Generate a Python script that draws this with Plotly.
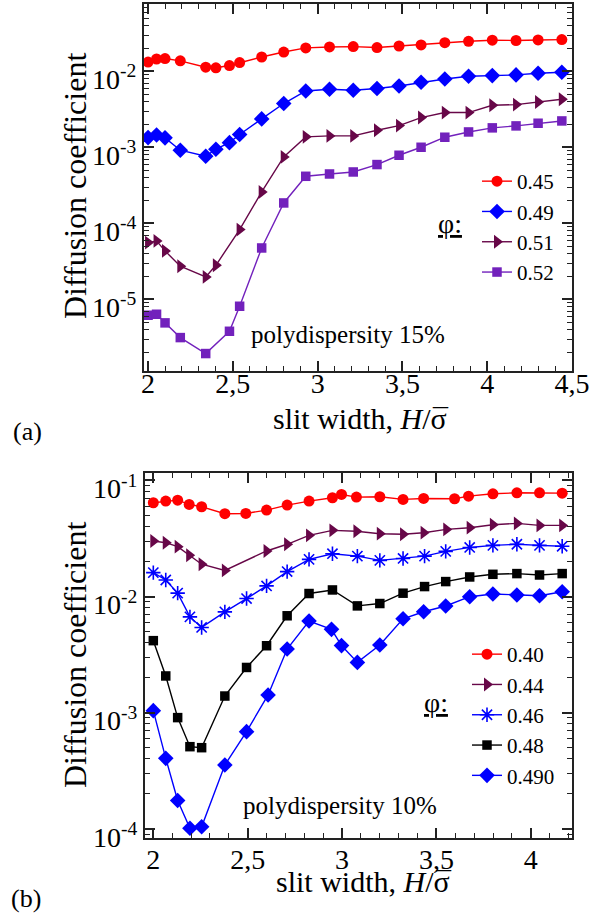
import plotly.graph_objects as go

# ---------------- data : panel (a), polydispersity 15% ----------------
XA = [2.0, 2.05, 2.1, 2.19, 2.34, 2.4, 2.48, 2.54, 2.67, 2.8, 2.93, 3.07,
      3.21, 3.35, 3.48, 3.61, 3.75, 3.89, 4.03, 4.17, 4.3, 4.44]
A_045 = [0.0132, 0.0145, 0.0147, 0.0137, 0.0113, 0.0111, 0.0119, 0.0130, 0.0154, 0.0179, 0.0203,
         0.0209, 0.0211, 0.0205, 0.0215, 0.0222, 0.0238, 0.0248, 0.0256, 0.0254, 0.0258, 0.0261]
A_049 = [0.00134, 0.00145, 0.00133, 0.000914, 0.000762, 0.000942, 0.00115, 0.00147, 0.00236,
         0.00376, 0.00551, 0.00580, 0.00562, 0.00592, 0.00641, 0.00716, 0.00792, 0.00859,
         0.00877, 0.00895, 0.00941, 0.00970]
A_051 = [5.57e-5, 5.86e-5, 4.33e-5, 2.72e-5, 1.97e-5, 2.80e-5, None, 8.26e-5, 2.58e-4, 7.46e-4,
         1.37e-3, 1.41e-3, 1.41e-3, 1.675e-3, 1.93e-3, 2.46e-3, 2.86e-3, 2.86e-3, 3.57e-3,
         3.64e-3, 3.94e-3, 4.28e-3]
A_052 = [6.16e-6, 6.35e-6, 4.89e-6, 3.13e-6, 1.93e-6, None, 3.79e-6, 8.09e-6, 4.73e-5, 1.85e-4,
         4.15e-4, 4.45e-4, 4.73e-4, 5.92e-4, 7.85e-4, 1.0e-3, 1.355e-3, 1.59e-3, 1.80e-3,
         1.91e-3, 2.07e-3, 2.22e-3]

# ---------------- data : panel (b), polydispersity 10% ----------------
XB_040 = [2.0, 2.066, 2.129, 2.19, 2.256, 2.379, 2.49, 2.6, 2.709, 2.825, 2.949, 2.997, 3.076,
          3.2, 3.323, 3.432, 3.596, 3.67, 3.799, 3.926, 4.046, 4.166]
B_040 = [0.0643, 0.0664, 0.0677, 0.0622, 0.0594, 0.0517, 0.0520, 0.0556, 0.0614, 0.0664, 0.0710,
         0.0758, 0.0719, 0.0724, 0.0687, 0.0700, 0.0696, 0.0733, 0.0768, 0.0783, 0.0783, 0.0778]
XB_044 = [2.0, 2.066, 2.129, 2.19, 2.256, 2.379, 2.6, 2.709, 2.825, 2.949, 3.076, 3.2, 3.323,
          3.432, 3.552, 3.676, 3.799, 3.926, 4.046, 4.166]
B_044 = [0.0301, 0.0291, 0.0269, 0.0227, 0.0190, 0.0168, 0.0247, 0.0282, 0.0337, 0.0372, 0.0365,
         0.0348, 0.0344, 0.0355, 0.0379, 0.0392, 0.0416, 0.0427, 0.0410, 0.0410]
XB_046 = [2.0, 2.066, 2.129, 2.194, 2.256, 2.379, 2.494, 2.6, 2.709, 2.825, 2.949, 3.081, 3.2,
          3.323, 3.437, 3.549, 3.676, 3.799, 3.926, 4.046, 4.166]
B_046 = [0.01607, 0.0139, 0.0107, 0.00668, 0.00542, 0.00738, 0.00961, 0.01235, 0.01641, 0.0209,
         0.0234, 0.0223, 0.0205, 0.0213, 0.0223, 0.0245, 0.0265, 0.0276, 0.0282, 0.0276, 0.0271]
XB_048 = XB_046
B_048 = [0.00417, 0.00207, 0.000906, 0.000509, 0.000499, 0.00139, 0.00245, 0.00377, 0.00683,
         0.01062, 0.01140, 0.00831, 0.00871, 0.01069, 0.01219, 0.01346, 0.01475, 0.01555,
         0.01577, 0.01534, 0.01577]
XB_0490 = [2.0, 2.066, 2.129, 2.194, 2.256, 2.379, 2.494, 2.608, 2.709, 2.825, 2.944, 2.997,
           3.081, 3.2, 3.323, 3.432, 3.549, 3.676, 3.799, 3.926, 4.046, 4.166]
B_0490 = [1.04e-3, 4.04e-4, 1.75e-4, 1.01e-4, 1.04e-4, 3.54e-4, 6.86e-4, 1.42e-3, 3.53e-3,
          6.15e-3, 5.22e-3, 3.78e-3, 2.71e-3, 3.83e-3, 6.44e-3, 7.40e-3, 8.29e-3, 9.97e-3,
          0.01052, 0.01031, 0.01017, 0.01101]

# ---------------- tick labels ----------------
XTICKS_A = [2, 2.5, 3, 3.5, 4, 4.5]
XTEXT_A = ["2", "2,5", "3", "3,5", "4", "4,5"]
XTICKS_B = [2, 2.5, 3, 3.5, 4]
XTEXT_B = ["2", "2,5", "3", "3,5", "4"]
YTICKS_A = [1e-5, 1e-4, 1e-3, 1e-2]
YTEXT_A = ["10<sup>-5</sup>", "10<sup>-4</sup>", "10<sup>-3</sup>", "10<sup>-2</sup>"]
YTICKS_B = [1e-4, 1e-3, 1e-2, 1e-1]
YTEXT_B = ["10<sup>-4</sup>", "10<sup>-3</sup>", "10<sup>-2</sup>", "10<sup>-1</sup>"]

FONT = "Liberation Serif"
W, H = 591, 917
RED, BLUE, MAROON, INDIGO, BLACK = "#ff0000", "#0000ff", "#670748", "#7221bc", "#000000"


def px_x(p):
    return p / W


def px_y(p):
    return 1 - p / H


fig = go.Figure()


def add(x, y, name, color, symbol, size, ax, legend, open_marker=False):
    marker = dict(symbol=symbol, size=size, color=color)
    if open_marker:
        marker["line"] = dict(color=color, width=1.6)
    else:
        marker["line"] = dict(width=0)
    fig.add_trace(go.Scatter(
        x=x, y=y, name=name, mode="lines+markers", connectgaps=True,
        line=dict(color=color, width=1.4), marker=marker,
        xaxis="x" if ax == 1 else "x2", yaxis="y" if ax == 1 else "y2",
        legend=legend))


add(XA, A_045, "0.45", RED, "circle", 11, 1, "legend")
add(XA, A_049, "0.49", BLUE, "diamond", 12, 1, "legend")
add(XA, A_051, "0.51", MAROON, "triangle-right", 12, 1, "legend")
add(XA, A_052, "0.52", INDIGO, "square", 9.5, 1, "legend")

add(XB_040, B_040, "0.40", RED, "circle", 11, 2, "legend2")
add(XB_044, B_044, "0.44", MAROON, "triangle-right", 12, 2, "legend2")
add(XB_046, B_046, "0.46", BLUE, "asterisk-open", 12, 2, "legend2", open_marker=True)
add(XB_048, B_048, "0.48", BLACK, "square", 9.5, 2, "legend2")
add(XB_0490, B_0490, "0.490", BLUE, "diamond", 12, 2, "legend2")


def minor_vals(e0, e1):
    return [m * 10.0 ** e for e in range(e0, e1) for m in range(2, 10)]


axis_common = dict(
    showline=True, linecolor="#222222", linewidth=2, mirror="allticks",
    ticks="inside", ticklen=10, tickwidth=1.6, tickcolor="#222222",
    tickfont=dict(family=FONT, size=28, color="black"),
    showgrid=False, zeroline=False, tickmode="array", automargin=False,
)
minor_x = dict(dtick=0.1, tick0=2, ticks="inside", ticklen=5, tickwidth=1.2, tickcolor="#222222")

fig.update_layout(
    width=W, height=H,
    margin=dict(l=0, r=0, t=0, b=0, pad=0, autoexpand=False),
    paper_bgcolor="white", plot_bgcolor="white",
    font=dict(family=FONT, color="black"),
    showlegend=True,
    xaxis=dict(axis_common, domain=[px_x(144), px_x(572)], range=[1.976, 4.5],
               tickvals=XTICKS_A, ticktext=XTEXT_A, anchor="y", ticklabelstandoff=-14,
               minor=minor_x),
    yaxis=dict(axis_common, domain=[px_y(371), px_y(4)], type="log", range=[-5.944, -1.115],
               tickvals=YTICKS_A, ticktext=YTEXT_A, anchor="x", ticklabelshift=8,
               minor=dict(tickmode="array", tickvals=minor_vals(-6, -1), ticks="inside",
                          ticklen=5, tickwidth=1.2, tickcolor="#222222")),
    xaxis2=dict(axis_common, domain=[px_x(145), px_x(572)], range=[1.956, 4.218],
                tickvals=XTICKS_B, ticktext=XTEXT_B, anchor="y2", ticklabelstandoff=-5,
                minor=minor_x),
    yaxis2=dict(axis_common, domain=[px_y(838), px_y(472.7)], type="log", range=[-4.08, -0.933],
                tickvals=YTICKS_B, ticktext=YTEXT_B, anchor="x2", ticklabelshift=8,
                minor=dict(tickmode="array", tickvals=minor_vals(-5, 0), ticks="inside",
                           ticklen=5, tickwidth=1.2, tickcolor="#222222")),
    legend=dict(x=px_x(477), y=px_y(161), xanchor="left", yanchor="top",
                font=dict(family=FONT, size=21, color="black"), bgcolor="rgba(0,0,0,0)",
                tracegroupgap=0, itemwidth=30),
    legend2=dict(x=px_x(467), y=px_y(634), xanchor="left", yanchor="top",
                 font=dict(family=FONT, size=21, color="black"), bgcolor="rgba(0,0,0,0)",
                 tracegroupgap=0, itemwidth=30),
)

XTITLE = "slit width, <i>H</i>/σ"
YTITLE = "Diffusion coefficient"

annotations = [
    dict(text=YTITLE, x=px_x(75), y=px_y(186), textangle=-90, font=dict(size=32)),
    dict(text=YTITLE, x=px_x(75), y=px_y(655), textangle=-90, font=dict(size=32)),
    dict(text=XTITLE, x=px_x(449), y=px_y(418), font=dict(size=30), xanchor="right"),
    dict(text="¯", x=px_x(440), y=px_y(418), font=dict(size=30)),
    dict(text=XTITLE, x=px_x(452), y=px_y(881), font=dict(size=30), xanchor="right"),
    dict(text="¯", x=px_x(443), y=px_y(881), font=dict(size=30)),
    dict(text="polydispersity 15%", x=px_x(348), y=px_y(334), font=dict(size=25)),
    dict(text="polydispersity 10%", x=px_x(340), y=px_y(805), font=dict(size=25)),
    dict(text="<u>φ:</u>", x=px_x(450), y=px_y(224), font=dict(size=28)),
    dict(text="<u>φ:</u>", x=px_x(436), y=px_y(702), font=dict(size=28)),
    dict(text="(a)", x=px_x(27), y=px_y(432), font=dict(size=26)),
    dict(text="(b)", x=px_x(26), y=px_y(898), font=dict(size=26)),
]
for a in annotations:
    base = dict(xref="paper", yref="paper", showarrow=False, xanchor="center", yanchor="middle")
    base.update(a)
    a.clear()
    a.update(base)
    a["font"] = dict(family=FONT, color="black", **a["font"])
fig.update_layout(annotations=annotations)

fig.write_html("out.html")
